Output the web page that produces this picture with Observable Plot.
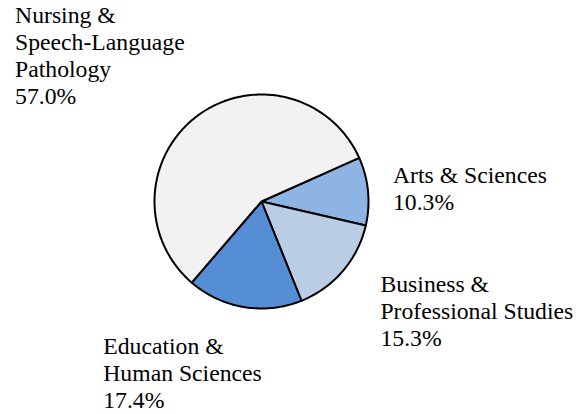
<!DOCTYPE html>
<html>
<head>
<meta charset="utf-8">
<script src="https://cdn.jsdelivr.net/npm/d3@7"></script>
<script src="https://cdn.jsdelivr.net/npm/@observablehq/plot@0.6"></script>
<style>
  html, body { margin: 0; padding: 0; background: #ffffff; }
  #chart { width: 584px; height: 414px; position: relative; }
  #dbg { position: absolute; left: -9999px; top: 0; width: 180px; font: 9px monospace; white-space: pre-wrap; margin: 0; }
  #warm { position: absolute; left: -9999px; top: 0; font-family: 'Liberation Serif'; font-size: 23.7px; }
</style>
</head>
<body>
<div id="warm">Nursing &amp; Speech-Language Pathology 57.0% Arts Sciences Business Professional Studies Education Human 10.3% 15.3% 17.4%</div>
<div id="chart"></div>
<pre id="dbg"></pre>
<script>
// ---- data ----
const categories = ["Arts & Sciences", "Business & Professional Studies", "Education & Human Sciences", "Nursing & Speech-Language Pathology"];
const labelLines = [
  ["Arts & Sciences"],
  ["Business &", "Professional Studies"],
  ["Education &", "Human Sciences"],
  ["Nursing &", "Speech-Language", "Pathology"]
];
const percents = [10.3, 15.3, 17.4, 57.0];
const colors = ["#8EB4E3", "#B9CDE5", "#558ED5", "#F2F2F2"];

// ---- layout (styling, not data) ----
const startAngleDeg = 65.9;           // first slice angle, clockwise from north
const labelOffsets = [                 // pixel offsets of label top-left from slice edge midpoint
  {dx: 25, dy: -27.8},
  {dx: 37.6, dy: 2.0},
  {dx: -140.8, dy: 28.2},
  {dx: -182.5, dy: -111.7}
];

// ---- build slice polygons from values ----
const total = d3.sum(percents);
const rad = Math.PI / 180;
let acc = startAngleDeg;
const slices = categories.map((name, i) => {
  const a0 = acc;
  const a1 = acc + percents[i] / total * 360;
  acc = a1;
  return {name, i, a0, a1, mid: (a0 + a1) / 2};
});
const points = [];
for (const s of slices) {
  points.push({name: s.name, x: 0, y: 0});
  const n = Math.max(2, Math.ceil(s.a1 - s.a0));
  for (let k = 0; k <= n; k++) {
    const a = (s.a0 + (s.a1 - s.a0) * k / n) * rad;
    points.push({name: s.name, x: Math.sin(a), y: Math.cos(a)});
  }
}
const labels = slices.map(s => ({
  x: Math.sin(s.mid * rad),
  y: Math.cos(s.mid * rad),
  label: [...labelLines[s.i], percents[s.i].toFixed(1) + "%"].join("\n"),
  i: s.i
}));

const cx = 261, cy = 201, r = 107;
const fontSize = 23.7;

const chart = Plot.plot({
  width: 584,
  height: 414,
  margin: 0,
  x: {domain: [-1, 1], range: [cx - r, cx + r], axis: null},
  y: {domain: [-1, 1], range: [cy + r, cy - r], axis: null},
  color: {type: "ordinal", domain: categories, range: colors},
  marks: [
    Plot.line(points, {
      x: "x", y: "y", z: "name", fill: "name",
      stroke: "#000000", strokeWidth: 2, strokeLinejoin: "round",
      curve: "linear-closed"
    }),
    ...labels.map(l => Plot.text([l], {
      x: "x", y: "y", text: "label",
      dx: labelOffsets[l.i].dx, dy: labelOffsets[l.i].dy,
      textAnchor: "start", lineAnchor: "top", lineHeight: 1.14,
      fontFamily: "Liberation Serif", fontSize: fontSize
    }))
  ]
});
chart.setAttribute("font-family", "Liberation Serif");
chart.querySelectorAll("text, tspan").forEach(t => {
  t.setAttribute("font-family", "Liberation Serif");
  t.style.fontFamily = "'Liberation Serif'";
});
document.getElementById("chart").appendChild(chart);
const t0 = chart.querySelector("text");
document.getElementById("dbg").textContent = getComputedStyle(t0).fontFamily + "\n" + t0.outerHTML.slice(0, 300);
</script>
</body>
</html>
